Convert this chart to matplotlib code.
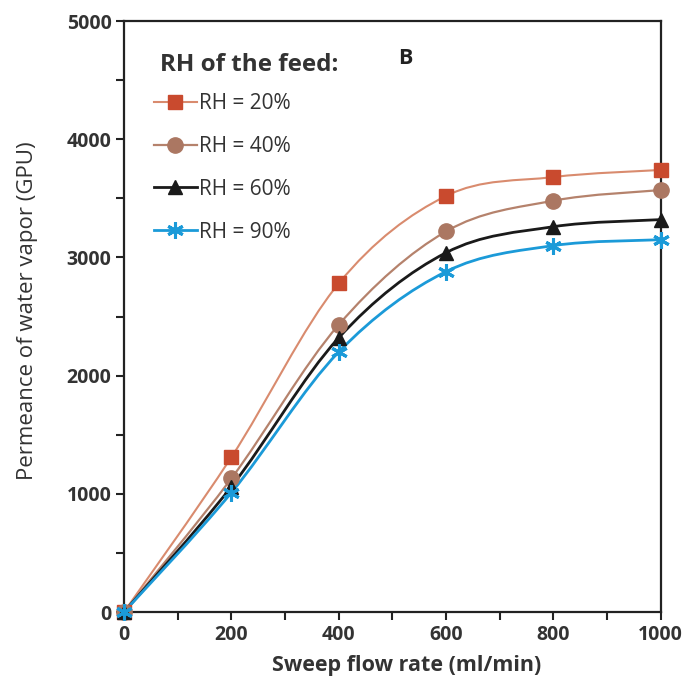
import matplotlib
matplotlib.use('Agg')
from matplotlib import pyplot as plt
from matplotlib.path import Path
from matplotlib.patches import PathPatch
import numpy as np

plt.rcParams['font.family'] = ['Open Sans', 'DejaVu Sans']

# sweep flow rate (ml/min)
flow = [0, 200, 400, 600, 800, 1000]

# permeance of water vapor (GPU) for each feed RH
rh20 = [0, 1310, 2780, 3520, 3680, 3740]
rh40 = [0, 1130, 2430, 3220, 3480, 3570]
rh60 = [0, 1060, 2320, 3040, 3260, 3320]
rh90 = [0, 1010, 2200, 2880, 3100, 3150]

labels = ['RH = 20%', 'RH = 40%', 'RH = 60%', 'RH = 90%']


# smoothed line like the spreadsheet one (bezier through the points)
def smooth_path(x, y):
    pts = np.column_stack([x, y]).astype(float)
    verts = [pts[0]]
    codes = [Path.MOVETO]
    n = len(pts)
    for i in range(n - 1):
        p0 = pts[i - 1] if i > 0 else pts[i]
        p1 = pts[i]
        p2 = pts[i + 1]
        p3 = pts[i + 2] if i + 2 < n else pts[i + 1]
        c1 = p1 + (p2 - p0) / 6.0
        c2 = p2 - (p3 - p1) / 6.0
        verts += [c1, c2, p2]
        codes += [Path.CURVE4] * 3
    return Path(verts, codes)


fig = plt.figure(figsize=(6.89, 6.92), dpi=100)
ax = fig.add_axes([0.180, 0.1156, 0.779, 0.854])

# values, line colour, marker colour, marker, marker size, line width
series = [
    (rh20, '#d98b6e', '#c94a2e', 's', 10.5, 1.5),
    (rh40, '#b5826c', '#ab7762', 'o', 11, 1.6),
    (rh60, '#1a1a1a', '#1a1a1a', '^', 10.5, 2.0),
    (rh90, '#1b9ad8', '#1b9ad8', (6, 2, 0), 12, 2.0),
]

handles = []
for (vals, lc, mc, mk, ms, lw), lab in zip(series, labels):
    mew = 2.2 if mk == (6, 2, 0) else 1
    patch = PathPatch(smooth_path(flow, vals), facecolor='none', edgecolor=lc,
                      lw=lw, zorder=2)
    ax.add_patch(patch)
    ax.plot(flow, vals, linestyle='none', marker=mk, ms=ms, color=mc,
            mec=mc, mew=mew, zorder=3, clip_on=False)
    leg_h, = ax.plot([], [], color=lc, lw=lw, marker=mk, ms=ms, mfc=mc, mec=mc,
                     mew=mew, label=lab)
    handles.append(leg_h)

ax.set_xlim(0, 1000)
ax.set_ylim(0, 5000)
ax.set_xticks(np.arange(0, 1001, 200))
ax.set_xticks(np.arange(0, 1001, 100), minor=True)
ax.set_yticks(np.arange(0, 5001, 1000))
ax.set_yticks(np.arange(0, 5001, 500), minor=True)

for sp in ax.spines.values():
    sp.set_linewidth(1.6)
    sp.set_color('#222222')
    sp.set_zorder(1)

ax.tick_params(which='major', direction='out', length=6, width=1.5,
               labelsize=14, colors='#222222', labelcolor='#333333', pad=3)
ax.tick_params(which='minor', direction='out', length=6, width=1.5, colors='#222222')
for t in ax.get_xticklabels() + ax.get_yticklabels():
    t.set_fontweight('bold')

ax.set_xlabel('Sweep flow rate (ml/min)', fontsize=15.5, fontweight='bold',
              color='#333333')
ax.xaxis.set_label_coords(0.527, -0.072)
ax.set_ylabel('Permeance of water vapor (GPU)', fontsize=16,
              color='#333333')
ax.yaxis.set_label_coords(-0.16, 0.51)

leg = ax.legend(handles=handles, loc='upper left', bbox_to_anchor=(0.02, 0.91),
                frameon=False, fontsize=15, handlelength=2.1, handletextpad=0.1,
                labelspacing=1.05)
for t in leg.get_texts():
    t.set_color('#333333')

ax.text(0.067, 0.9255, 'RH of the feed:', transform=ax.transAxes, fontsize=17.5,
        fontweight='bold', color='#333333', ha='left', va='center')
ax.text(0.525, 0.937, 'B', transform=ax.transAxes, fontsize=15.5, fontweight='bold',
        color='#222222', ha='center', va='center')

fig.savefig('out.png', dpi=100)
